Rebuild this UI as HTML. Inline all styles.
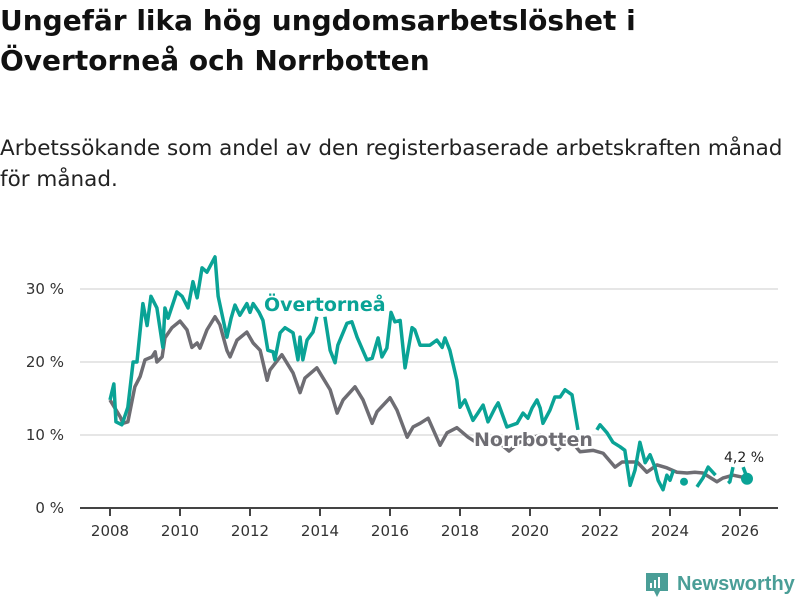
<!DOCTYPE html>
<html><head><meta charset="utf-8"><style>
body{margin:0;background:#fff;width:800px;height:600px;overflow:hidden;font-family:"Liberation Sans","DejaVu Sans",sans-serif}
</style></head><body>
<svg width="800" height="600" font-family="'DejaVu Sans','Liberation Sans',sans-serif">
<text x="0" y="30" font-size="28" font-weight="bold" fill="#111">Ungefär lika hög ungdomsarbetslöshet i</text>
<text x="0" y="70" font-size="28" font-weight="bold" fill="#111">Övertorneå och Norrbotten</text>
<text x="0" y="155" font-size="21.5" fill="#222">Arbetssökande som andel av den registerbaserade arbetskraften månad</text>
<text x="0" y="186" font-size="21.5" fill="#222">för månad.</text>
<g id="grid"></g><g id="axes"></g><g id="series"></g><g id="labels"></g>
<g>
<path d="M646 573h22v18h-8l-3 6-3-6h-8z" fill="#4a9e97"/>
<rect x="650" y="583" width="2" height="5" fill="#fff"/><rect x="654" y="580" width="2" height="8" fill="#fff"/><rect x="658" y="577" width="2" height="11" fill="#fff"/>
<text x="677" y="590" font-size="20" font-weight="bold" fill="#4a9e97" font-family="'Liberation Sans',sans-serif">Newsworthy</text>
</g>
</svg>
<script>
const yTicks=[0,10,20,30];
const xTicks=[2008,2010,2012,2014,2016,2018,2020,2022,2024,2026];
const norrT=[2008,2008.29,2008.37,2008.51,2008.71,2008.86,2009,2009.2,2009.29,2009.34,2009.49,2009.57,2009.77,2010,2010.2,2010.34,2010.49,2010.57,2010.77,2011,2011.14,2011.34,2011.43,2011.63,2011.91,2012.09,2012.29,2012.49,2012.57,2012.91,2013.23,2013.43,2013.57,2013.91,2014.29,2014.49,2014.66,2015,2015.23,2015.49,2015.63,2016,2016.2,2016.49,2016.66,2016.86,2017.09,2017.43,2017.63,2017.91,2018.23,2018.49,2018.8,2019.1,2019.4,2019.7,2020,2020.3,2020.6,2020.8,2021.1,2021.2,2021.43,2021.8,2022.09,2022.43,2022.63,2023.06,2023.34,2023.63,2023.91,2024.2,2024.49,2024.71,2024.94,2025.34,2025.51,2025.8,2026.09,2026.2];
const norrV=[14.8,12.5,11.6,11.8,16.6,18,20.3,20.7,21.4,20,20.7,23.3,24.7,25.6,24.4,22,22.6,21.9,24.4,26.2,25.1,21.6,20.7,23,24.1,22.6,21.6,17.5,18.9,21,18.5,15.8,17.8,19.2,16.2,13,14.8,16.6,14.8,11.6,13.2,15.1,13.4,9.7,11.1,11.6,12.3,8.6,10.3,11,9.7,8.9,9.5,9,7.8,9,9.5,10,9,8,9.5,9,7.7,7.9,7.5,5.6,6.3,6.3,4.9,5.9,5.5,4.9,4.8,4.9,4.8,3.6,4.1,4.5,4.2,4.3];
const overT=[2008,2008.11,2008.17,2008.34,2008.51,2008.66,2008.77,2008.94,2009.06,2009.17,2009.34,2009.51,2009.57,2009.66,2009.91,2010.06,2010.23,2010.37,2010.49,2010.63,2010.77,2011,2011.09,2011.34,2011.46,2011.57,2011.71,2011.91,2012,2012.09,2012.26,2012.37,2012.51,2012.66,2012.71,2012.86,2013,2013.23,2013.37,2013.43,2013.51,2013.63,2013.8,2013.91,2014,2014.14,2014.29,2014.43,2014.51,2014.77,2014.91,2015.06,2015.34,2015.49,2015.66,2015.77,2015.91,2016.03,2016.14,2016.29,2016.43,2016.63,2016.71,2016.86,2017.14,2017.34,2017.49,2017.57,2017.71,2017.91,2018,2018.14,2018.37,2018.51,2018.66,2018.8,2019,2019.09,2019.34,2019.63,2019.8,2019.94,2020.06,2020.2,2020.29,2020.37,2020.57,2020.71,2020.86,2021,2021.2,2021.37,2021.6,2021.91,2022,2022.2,2022.37,2022.57,2022.71,2022.86,2023,2023.14,2023.29,2023.43,2023.57,2023.66,2023.8,2023.91,2024,2024.1,2024.23,2024.4,2024.63,2024.77,2024.94,2025.09,2025.3,2025.57,2025.66,2025.71,2025.8,2025.94,2026.09,2026.2];
const overV=[14.8,17,11.8,11.4,13.8,20,20,28,25,29,27.4,22,27.4,26,29.6,29,27.4,31,28.8,32.9,32.3,34.4,29,23.4,26,27.8,26.4,28,26.8,28,26.8,25.7,21.6,21.4,20.3,24,24.7,24,20.3,23.4,20.3,23,24.1,26.2,null,26.2,21.6,19.9,22.3,25.3,25.5,23.4,20.3,20.5,23.3,20.7,21.9,26.8,25.5,25.7,19.2,24.7,24.4,22.3,22.3,23,22,23.3,21.6,17.5,13.8,14.8,12,13,14.1,11.8,13.7,14.4,11.1,11.6,13,12.3,13.7,14.8,13.7,11.6,13.4,15.2,15.2,16.2,15.5,10.7,null,10.7,11.4,10.3,9,8.4,7.9,3.1,5.2,9,6.2,7.3,5.6,3.8,2.5,4.5,3.8,5.2,null,3.6,null,2.9,4.1,5.6,4.5,null,3.4,3.6,5.6,null,5.6,4.2,4.0];
const NS="http://www.w3.org/2000/svg";
const x=t=>110+(t-2008)*35, y=v=>508-v*7.3;
function mk(tag,attrs,parent){const e=document.createElementNS(NS,tag);for(const k in attrs)e.setAttribute(k,attrs[k]);document.getElementById(parent).appendChild(e);return e;}
yTicks.forEach(v=>{
 if(v>0){const l=mk('line',{x1:80,x2:778,y1:y(v),y2:y(v),stroke:'#ddd','stroke-width':1.5},'grid');
 
 }
 const t=mk('text',{x:64,y:y(v)+5,'text-anchor':'end','font-size':15,fill:'#333'},'axes');t.textContent=v+' %';
 
 
});
const ax=mk('line',{x1:80,x2:778,y1:508,y2:508,stroke:'#444','stroke-width':2},'axes');


xTicks.forEach(v=>{
 const tk=mk('line',{x1:x(v),x2:x(v),y1:508,y2:516,stroke:'#444','stroke-width':2},'axes');
 
 
 const t=mk('text',{x:x(v),y:536,'text-anchor':'middle','font-size':15,fill:'#333'},'axes');t.textContent=v;
 
 
});
function draw(T,V,color,name){
 let run=[];const runs=[];
 V.forEach((v,i)=>{if(v===null){if(run.length)runs.push(run);run=[];}else run.push([x(T[i]),y(v)]);});
 if(run.length)runs.push(run);
 runs.forEach(r=>{
  let e;
  if(r.length===1){e=mk('circle',{cx:r[0][0],cy:r[0][1],r:4,fill:color},'series');}
  else e=mk('polyline',{points:r.map(p=>p.join(',')).join(' '),fill:'none',stroke:color,'stroke-width':3.5,'stroke-linejoin':'round'},'series');
  
  
 });
}
draw(norrT,norrV,'#6e6d73','norrbotten');
draw(overT,overV,'#0aa396','overtornea');
const endDot=mk('circle',{cx:x(overT[overT.length-1]),cy:y(overV[overV.length-1]),r:6,fill:'#0aa396'},'series');


function lab(txt,xx,yy,col,sz,bold,name){
 const t=mk('text',{x:xx,y:yy,'font-size':sz,fill:col,'font-weight':bold?'bold':'normal',stroke:'#fff','stroke-width':4,'paint-order':'stroke'},'labels');t.textContent=txt;
 
 
}
lab('Övertorneå',264,311,'#0aa396',19,true,'overtornea-label');
lab('Norrbotten',474,446,'#6e6d73',19,true,'norrbotten-label');
lab('4,2 %',724,462,'#222',14,false,'last-value-label');
</script>
</body></html>
